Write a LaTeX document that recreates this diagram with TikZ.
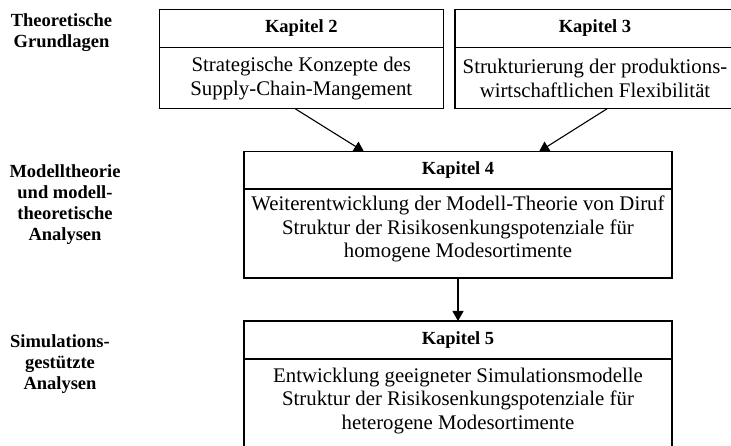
\documentclass[tikz,border=0pt]{standalone}
\usepackage{fontspec}
\setmainfont{Liberation Serif}
\usetikzlibrary{arrows.meta}
% invisible strut that deepens the last line of a text block
\newcommand{\lowpad}[1]{\rule[-#1]{0pt}{#1}}
\begin{document}
\begin{tikzpicture}[x=1pt,y=-1pt,
  every node/.style={inner sep=0pt, outer sep=0pt},
  lane/.style={font=\fontsize{18.5}{21}\selectfont\bfseries, align=center, anchor=north},
  chead/.style={draw, line width=1.2pt, minimum height=38pt,
    font=\fontsize{18.5}{22}\selectfont\bfseries},
  cbody/.style={draw, line width=1.2pt, align=center, anchor=north,
    font=\fontsize{20.8}{23.8}\selectfont},
  flow/.style={line width=1.1pt, -{Triangle[length=10pt,width=11pt]}},
]
\useasboundingbox (0,0) rectangle (731,446);
\clip (0,0) rectangle (731,446);

% row labels on the left
\node[lane] (lab1) at (61.5,13.3) {Theoretische\\Grundlagen};
\node[lane] (lab2) at (65,165) {Modelltheorie\\und modell-\\theoretische\\Analysen};
\node[lane] (lab3) at (60,335) {Simulations-\\gestützte\\Analysen};

% chapter 2
\node[chead, minimum width=284pt] (k2h) at (301.3,28.5) {Kapitel 2};
\node[cbody, minimum width=284pt, minimum height=61.3pt] (k2b) at (k2h.south)
  {Strategische Konzepte des\\Supply-Chain-Mangement};

% chapter 3
\node[chead, minimum width=280pt] (k3h) at (595,28.5) {Kapitel 3};
\node[cbody, minimum width=280pt, minimum height=61.3pt] (k3b) at (k3h.south)
  {Strukturierung der produktions-\\wirtschaftlichen Flexibilität};

% chapter 4
\node[chead, minimum width=428pt, minimum height=37.3pt] (k4h) at (458,170.35) {Kapitel 4};
\node[cbody, minimum width=428pt, minimum height=89pt] (k4b) at (k4h.south)
  {Weiterentwicklung der Modell-Theorie von Diruf\\Struktur der Risikosenkungspotenziale für\\homogene Modesortimente\lowpad{13.6pt}};

% chapter 5
\node[chead, minimum width=428pt] (k5h) at (458,340) {Kapitel 5};
\node[cbody, minimum width=428pt, minimum height=92pt] (k5b) at (k5h.south)
  {Entwicklung geeigneter Simulationsmodelle\\Struktur der Risikosenkungspotenziale für\\heterogene Modesortimente\lowpad{12.5pt}};

% connectors
\draw[flow] ([xshift=-6pt]k2b.south) -- ([xshift=-94pt]k4h.north);
\draw[flow] ([xshift=12pt]k3b.south) -- ([xshift=81pt]k4h.north);
\draw[flow] (k4b.south) -- (k5h.north);
\end{tikzpicture}
\end{document}
